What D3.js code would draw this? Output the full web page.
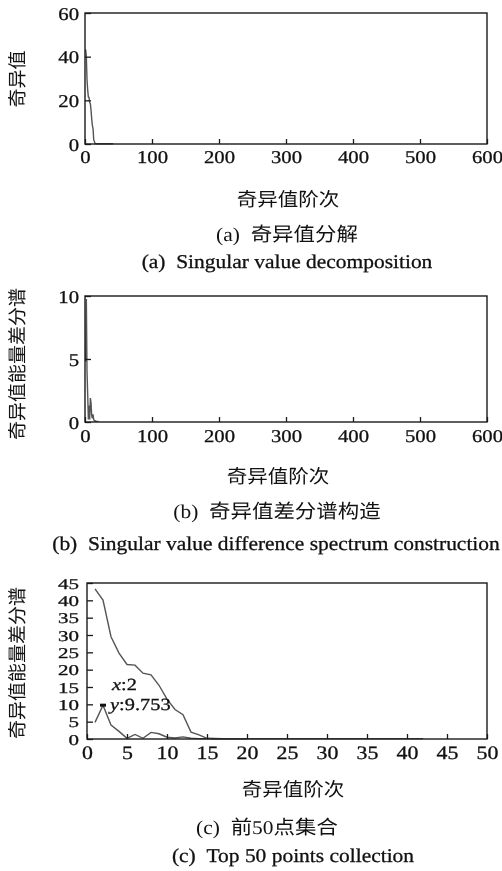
<!DOCTYPE html>
<html>
<head>
<meta charset="utf-8">
<script src="https://cdn.jsdelivr.net/npm/d3@7"></script>
<style>
  body { margin: 0; background: #fff; }
  svg { display: block; will-change: transform; }
  text { font-family: "Liberation Serif", "Times New Roman", "Noto Sans CJK SC", serif; fill: #111;
         stroke: #111; stroke-width: 0.3px;
         -webkit-font-smoothing: antialiased; text-rendering: geometricPrecision; }
  .cjk { font-family: "Liberation Serif", "Noto Sans CJK SC", sans-serif; stroke-width: 0; }
</style>
</head>
<body>
<svg id="main-svg" width="502" height="871"></svg>
<script>
// singular values (order 1..42) (a) / upper curve of (c)
var singularValues = [43.3, 40.1, 29.5, 24.8, 21.5, 21.3, 19.0, 18.5, 15.5, 11.5,
                      8.5, 7.0, 2.0, 1.2, 0.2, 0.15, 0.1, 0.1, 0.1, 0.1,
                      0.1, 0.1, 0.1, 0.1, 0.1, 0.1, 0.1, 0.1, 0.1, 0.1,
                      0.1, 0.1, 0.1, 0.1, 0.1, 0.1, 0.1, 0.1, 0.1, 0.1,
                      0.1, 0.1];
// difference spectrum (order 1..20), lower curve of (c)
var diffSpectrum = [4.8, 9.753, 4.0, 2.2, 0.2, 1.3, 0.2, 1.9, 1.5, 0.5,
                    0.3, 0.6, 0.2, 0.1, 0.1, 0.05, 0.05, 0.05, 0.05, 0.05];

var ticksA = [0, 100, 200, 300, 400, 500, 600];
var ticksC = [0, 5, 10, 15, 20, 25, 30, 35, 40, 45, 50];
var yTicksA = [0, 20, 40, 60];
var yTicksB = [0, 5, 10];
var yTicksC = [0, 5, 10, 15, 20, 25, 30, 35, 40, 45];

var xLabel = '奇异值阶次';
var yLabels = ['奇异值', '奇异值能量差分谱', '奇异值能量差分谱'];
var captionsCn = ['(a)\u00a0\u00a0奇异值分解', '(b)\u00a0\u00a0奇异值差分谱构造', '(c)\u00a0\u00a0前50点集合'];
var captionsEn = ['(a)\u00a0\u00a0Singular value decomposition',
                  '(b)\u00a0\u00a0Singular value difference spectrum construction',
                  '(c)\u00a0\u00a0Top 50 points collection'];

var SX = 1.15;   // glyphs in the scan are a bit wider than tall
var svg = d3.select('#main-svg');

function toPts(arr) {
    return arr.map(function(v, i) { return [i + 1, v]; });
}

function putText(g, str, x, y, size, anchor, sx, cls) {
    return g.append('text')
        .attr('transform', 'translate(' + x + ',' + y + ') scale(' + sx + ',1)')
        .attr('text-anchor', anchor)
        .attr('font-size', size)
        .attr('class', cls || null)
        .text(str);
}

function drawPanel(p) {
    var x = d3.scaleLinear().domain(p.xDomain).range([p.x0, p.x1]);
    var y = d3.scaleLinear().domain(p.yDomain).range([p.y1, p.y0]);
    var g = svg.append('g');

    // data lines
    var line = d3.line().x(function(d) { return x(d[0]); }).y(function(d) { return y(d[1]); });
    p.series.forEach(function(s) {
        g.append('path')
            .datum(toPts(s))
            .attr('d', line)
            .attr('fill', 'none')
            .attr('stroke', '#555')
            .attr('stroke-width', 1.4);
    });

    // axes, ticks pointing inward
    var ax = g.append('g').attr('transform', 'translate(0,' + p.y1 + ')')
        .call(d3.axisBottom(x).tickValues(p.xTicks).tickSizeInner(-5).tickSizeOuter(0));
    var ay = g.append('g').attr('transform', 'translate(' + p.x0 + ',0)')
        .call(d3.axisLeft(y).tickValues(p.yTicks).tickSizeInner(-6).tickSizeOuter(0));
    [ax, ay].forEach(function(a) {
        a.select('.domain').remove();
        a.selectAll('line').attr('stroke', '#1a1a1a').attr('stroke-width', 1.3);
        a.selectAll('text').attr('fill', '#111').attr('font-family', null);
    });
    ax.selectAll('text')
        .attr('y', 0).attr('dy', null)
        .attr('transform', 'translate(0,' + p.xTickDy + ') scale(' + p.tickSx + ',1)')
        .attr('font-size', p.xTickSize);
    ay.selectAll('text')
        .attr('x', 0).attr('dy', '0.34em')
        .attr('transform', 'translate(' + (-p.yTickGap) + ',0) scale(' + p.yTickSx + ',1)')
        .attr('font-size', p.yTickSize);

    // frame
    g.append('rect')
        .attr('x', p.x0).attr('y', p.y0)
        .attr('width', p.x1 - p.x0).attr('height', p.y1 - p.y0)
        .attr('fill', 'none').attr('stroke', '#1a1a1a').attr('stroke-width', 1.4);

    // y label (rotated)
    g.append('text')
        .attr('class', 'cjk')
        .attr('transform', 'translate(24,' + p.yLabelY + ') rotate(-90)')
        .attr('text-anchor', 'middle')
        .attr('font-size', 19)
        .text(p.yLabel);

    putText(g, xLabel, p.xLabelX, p.xLabelY, 19, 'middle', 1.08, 'cjk');
    putText(g, p.capCn, p.capCnX, p.capCnY, 19.5, 'middle', 1.1, 'cjk');
    putText(g, p.capEn, p.capEnX, p.capEnY, 19.5, 'middle', 1.1);
    return { g: g, x: x, y: y };
}

drawPanel({
    x0: 85, x1: 487, y0: 13, y1: 144,
    xDomain: [0, 600], yDomain: [0, 60], xTicks: ticksA, yTicks: yTicksA,
    series: [singularValues],
    xTickDy: 19, xTickSize: 18, tickSx: SX, yTickGap: 6, yTickSize: 18, yTickSx: SX,
    yLabel: yLabels[0], yLabelY: 79,
    xLabelX: 288, xLabelY: 206,
    capCn: captionsCn[0], capCnX: 287, capCnY: 241,
    capEn: captionsEn[0], capEnX: 287, capEnY: 268
});

drawPanel({
    x0: 85, x1: 487, y0: 296, y1: 422,
    xDomain: [0, 600], yDomain: [0, 10], xTicks: ticksA, yTicks: yTicksB,
    series: [diffSpectrum],
    xTickDy: 20, xTickSize: 18, tickSx: SX, yTickGap: 6, yTickSize: 18, yTickSx: SX,
    yLabel: yLabels[1], yLabelY: 364,
    xLabelX: 278, xLabelY: 483,
    capCn: captionsCn[1], capCnX: 277, capCnY: 518,
    capEn: captionsEn[1], capEnX: 276, capEnY: 550
});

var pc = drawPanel({
    x0: 87, x1: 487, y0: 583, y1: 739,
    xDomain: [0, 50], yDomain: [0, 45], xTicks: ticksC, yTicks: yTicksC,
    series: [singularValues, diffSpectrum],
    xTickDy: 20, xTickSize: 19, tickSx: SX, yTickGap: 8, yTickSize: 15, yTickSx: 1.4,
    yLabel: yLabels[2], yLabelY: 663,
    xLabelX: 293, xLabelY: 796,
    capCn: captionsCn[2], capCnX: 267, capCnY: 834,
    capEn: captionsEn[2], capEnX: 293, capEnY: 862
});

// data tip on the difference spectrum peak
var tipX = 2, tipY = diffSpectrum[1];
pc.g.append('rect')
    .attr('x', pc.x(tipX) - 3).attr('y', pc.y(tipY) - 1.5)
    .attr('width', 6).attr('height', 3)
    .attr('fill', '#111');
var t1 = pc.g.append('text')
    .attr('transform', 'translate(' + (pc.x(tipX) + 9) + ',' + (pc.y(tipY) - 15) + ') scale(1.2,1)')
    .attr('font-size', 17);
t1.append('tspan').attr('font-style', 'italic').text('x');
t1.append('tspan').text(':' + tipX);
var t2 = pc.g.append('text')
    .attr('transform', 'translate(' + (pc.x(tipX) + 7) + ',' + (pc.y(tipY) + 5) + ') scale(1.2,1)')
    .attr('font-size', 17);
t2.append('tspan').attr('font-style', 'italic').text('y');
t2.append('tspan').text(':' + tipY);
</script>
</body>
</html>
